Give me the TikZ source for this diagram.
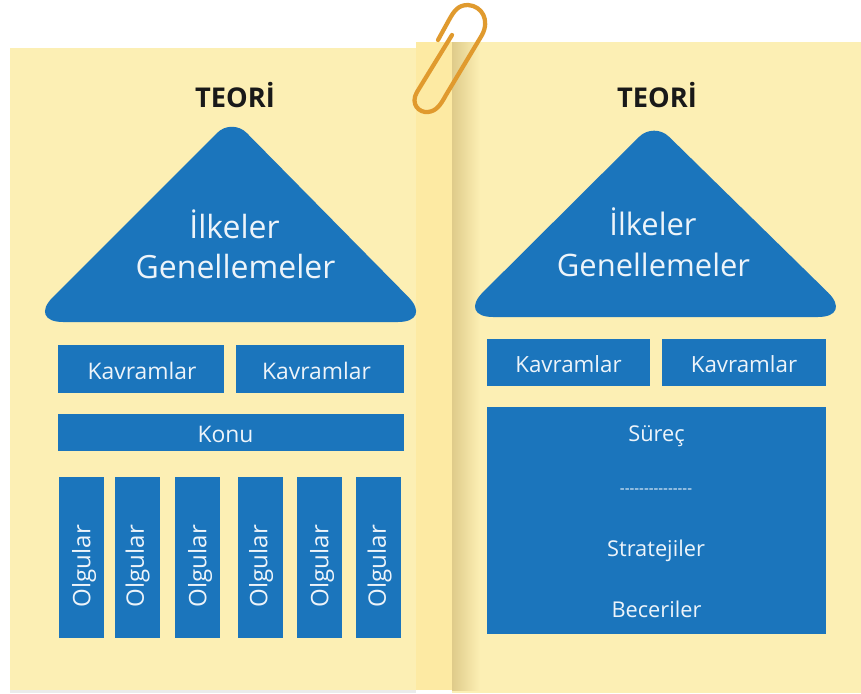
\documentclass[tikz,border=0pt]{standalone}
\usepackage{fontspec}
\setmainfont{Open Sans}
\definecolor{pagecol}{HTML}{FCEFB4}
\definecolor{stripcol}{HTML}{FDEAA3}
\definecolor{shadowcol}{HTML}{DFCB8A}
\definecolor{boxcol}{HTML}{1B75BC}
\definecolor{clipcol}{HTML}{E09A2E}
\colorlet{labelcol}{white!92!boxcol}
\tikzset{
  title/.style={font=\fontsize{15.5}{18}\selectfont\bfseries,text=black!90},
  bluebox/.style={fill=boxcol,inner sep=0pt},
  boxtext/.style={text=labelcol,font=\fontsize{#1}{15}\selectfont},
  boxtext/.default=12.4,
  bigtext/.style={text=labelcol,font=\fontsize{#1}{21}\selectfont},
  vertbox/.style={bluebox,minimum width=45*0.02cm,minimum height=161*0.02cm},
}
\begin{document}
\begin{tikzpicture}[x=0.02cm,y=-0.02cm]
  \useasboundingbox (0,0) rectangle (861,693);
  \fill [white] (0,0) rectangle (861,693);
  % pages
  \fill [black!8] (10,688) rectangle (416,693);
  \fill [pagecol] (10,48) rectangle (416,690);
  \fill [stripcol] (416,42) rectangle (452,690);
  \fill [pagecol] (452,42) rectangle (861,693);
  \shade [left color=shadowcol,right color=pagecol] (452,42) rectangle (480,690);
  % clip
  \draw [clipcol,line width=0.85mm,line cap=round,line join=round]
    (452,35) -- (417,92) .. controls (410,104) and (419,113) .. (428,112)
    .. controls (436,111) and (440,106) .. (446,95) -- (482,35)
    .. controls (490,20) and (482,6) .. (468,5)
    .. controls (458,5) and (454,11) .. (449,20) -- (438,40);
  % left side
  \node (titleL) at (235,95.5) [title] {TEORİ};
  \fill [boxcol,rounded corners=20pt] (230,322) -- (28,322)
    [rounded corners=12pt] -- (232,118) [rounded corners=20pt] -- (433,322) -- cycle;
  \node (ilkL) at (234.5,224) [bigtext=18.2] {İlkeler};
  \node (genL) at (235.5,267) [bigtext=18.2] {Genellemeler};
  \node (kavL1) at (141,369) [bluebox,minimum width=166*0.02cm,minimum height=48*0.02cm] {};
  \node (kavL2) at (320,369) [bluebox,minimum width=168*0.02cm,minimum height=48*0.02cm] {};
  \node (konuL) at (231,432.5) [bluebox,minimum width=346*0.02cm,minimum height=37*0.02cm] {};
  \node (kavT1) at (142,371) [boxtext=13] {Kavramlar};
  \node (kavT2) at (316.5,371) [boxtext=13] {Kavramlar};
  \node (konuT) at (225.5,434) [boxtext=13] {Konu};
  \foreach \x/\tx/\name in {81.5/84/a,137.5/137.5/b,197.5/200/c,260/261/d,319.5/322/e,378.5/379.5/f} {
    \node (olg\name) at (\x,557.5) [vertbox] {};
    \node (olgT\name) at (\tx,566) [rotate=90,boxtext=13.7] {Olgular};
  }
  % right side
  \node (titleR) at (657,95.5) [title] {TEORİ};
  \fill [boxcol,rounded corners=20pt] (655,317) -- (458,317)
    [rounded corners=12pt] -- (654,122) [rounded corners=20pt] -- (853,317) -- cycle;
  \node (ilkR) at (653,222) [bigtext=17.6] {İlkeler};
  \node (genR) at (653.5,265) [bigtext=17.6] {Genellemeler};
  \node (kavR1) at (568.5,362.5) [bluebox,minimum width=163*0.02cm,minimum height=47*0.02cm] {};
  \node (kavR2) at (744,362.5) [bluebox,minimum width=164*0.02cm,minimum height=47*0.02cm] {};
  \node (kavT3) at (568.5,364) [boxtext=12.7] {Kavramlar};
  \node (kavT4) at (744,364) [boxtext=12.7] {Kavramlar};
  \node (surecbox) at (656.5,520.5) [bluebox,minimum width=339*0.02cm,minimum height=227*0.02cm] {};
  \node (surec) at (656.5,436) [boxtext] {Süreç};
  \node (cizgi) at (656,491) [text=labelcol,font=\fontsize{8.5}{10}\selectfont]
    {-{}-{}-{}-{}-{}-{}-{}-{}-{}-{}-{}-{}-{}-{}-};
  \node (strateji) at (656,551) [boxtext] {Stratejiler};
  \node (beceri) at (656.5,609) [boxtext] {Beceriler};
\end{tikzpicture}
\end{document}
